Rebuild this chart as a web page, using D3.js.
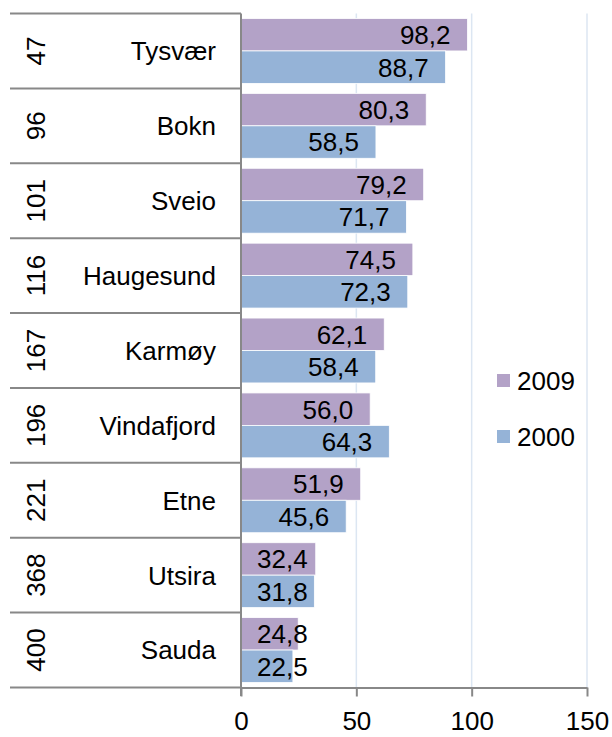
<!DOCTYPE html>
<html>
<head>
<meta charset="utf-8">
<script src="https://cdn.jsdelivr.net/npm/d3@7"></script>
<style>
  body { margin: 0; background: #fff; }
  text { font-family: "Liberation Sans", Arial, sans-serif; fill: #000; }
</style>
</head>
<body>
<div id="chart"></div>
<script>
// data
const names = ["Tysvær", "Bokn", "Sveio", "Haugesund", "Karmøy", "Vindafjord", "Etne", "Utsira", "Sauda"];
const ranks = ["47", "96", "101", "116", "167", "196", "221", "368", "400"];
const v2009 = [98.2, 80.3, 79.2, 74.5, 62.1, 56.0, 51.9, 32.4, 24.8];
const v2000 = [88.7, 58.5, 71.7, 72.3, 58.4, 64.3, 45.6, 31.8, 22.5];
const seriesNames = ["2009", "2000"];
const xTicks = [0, 50, 100, 150];

const W = 612, H = 737;
const colors = { "2009": "#b3a2c7", "2000": "#95b3d7" };
const axisColor = "#888888";
const fs = 26;

const svg = d3.select("#chart").append("svg")
    .attr("width", W)
    .attr("height", H);

const x = d3.scaleLinear().domain([0, 150]).range([241, 587]);
const y0 = d3.scaleBand().domain(names).range([13.5, 687.5]);
const y1 = d3.scaleBand().domain(seriesNames).range([5, y0.bandwidth() - 5]);

const fmt = v => d3.format(".1f")(v).replace(".", ",");

// gridlines
svg.append("g")
    .selectAll("line")
    .data(xTicks.slice(1))
    .enter()
    .append("line")
    .attr("x1", d => x(d)).attr("x2", d => x(d))
    .attr("y1", 13.5).attr("y2", 687.5)
    .style("stroke", "#dce6f2")
    .style("stroke-width", 1.5);

// rows of bars
const rows = names.map((n, i) => ({ name: n, rank: ranks[i], vals: [
    { s: "2009", v: v2009[i] },
    { s: "2000", v: v2000[i] }
]}));

const rowG = svg.selectAll(".row")
    .data(rows)
    .enter()
    .append("g")
    .attr("class", "row")
    .attr("transform", d => `translate(0,${y0(d.name)})`);

rowG.selectAll("rect")
    .data(d => d.vals)
    .enter()
    .append("rect")
    .attr("x", x(0))
    .attr("y", d => y1(d.s))
    .attr("width", d => x(d.v) - x(0))
    .attr("height", y1.bandwidth())
    .style("fill", d => colors[d.s])
    .style("stroke", "#fff")
    .style("stroke-width", 0.8);

// value labels, inside end but kept clear of the axis
rowG.selectAll(".val")
    .data(d => d.vals)
    .enter()
    .append("text")
    .attr("class", "val")
    .attr("y", d => y1(d.s) + y1.bandwidth() / 2)
    .attr("dy", "0.36em")
    .attr("text-anchor", "end")
    .style("font-size", fs + "px")
    .text(d => fmt(d.v))
    .attr("x", function(d) {
        const w = this.getComputedTextLength();
        return Math.max(x(d.v) - 17, x(0) + 16 + w);
    });

// category labels
rowG.append("text")
    .attr("x", 216)
    .attr("y", y0.bandwidth() / 2)
    .attr("dy", "0.36em")
    .attr("text-anchor", "end")
    .style("font-size", fs + "px")
    .text(d => d.name);

rowG.append("text")
    .attr("transform", `translate(36,${y0.bandwidth() / 2}) rotate(-90)`)
    .attr("dy", "0.36em")
    .attr("text-anchor", "middle")
    .style("font-size", fs + "px")
    .text(d => d.rank);

// category separators
const bounds = names.map(n => y0(n)).concat([y0.range()[1]]);
svg.append("g")
    .selectAll("line")
    .data(bounds)
    .enter()
    .append("line")
    .attr("x1", 10).attr("x2", x(0))
    .attr("y1", d => d).attr("y2", d => d)
    .style("stroke", axisColor)
    .style("stroke-width", 2);

// vertical axis line
svg.append("line")
    .attr("x1", x(0)).attr("x2", x(0))
    .attr("y1", 13.5).attr("y2", 696)
    .style("stroke", axisColor)
    .style("stroke-width", 2);

// x axis
const xAxis = svg.append("g")
    .attr("transform", "translate(0,687.5)")
    .call(d3.axisBottom(x).tickValues(xTicks).tickSize(9).tickPadding(15).tickSizeOuter(0));
xAxis.select(".domain").style("stroke", axisColor).style("stroke-width", 2);
xAxis.selectAll(".tick line").style("stroke", axisColor).style("stroke-width", 2);
xAxis.selectAll(".tick text")
    .style("font-size", fs + "px")
    .style("font-family", "'Liberation Sans', Arial, sans-serif")
    .style("fill", "#000");

// legend
const legend = svg.selectAll(".legend")
    .data(seriesNames)
    .enter()
    .append("g")
    .attr("class", "legend")
    .attr("transform", (d, i) => `translate(497,${374 + i * 56})`);

legend.append("rect")
    .attr("width", 13)
    .attr("height", 13)
    .style("fill", d => colors[d]);

legend.append("text")
    .attr("x", 20)
    .attr("y", 6.5)
    .attr("dy", "0.36em")
    .style("font-size", fs + "px")
    .text(d => d);
</script>
</body>
</html>
